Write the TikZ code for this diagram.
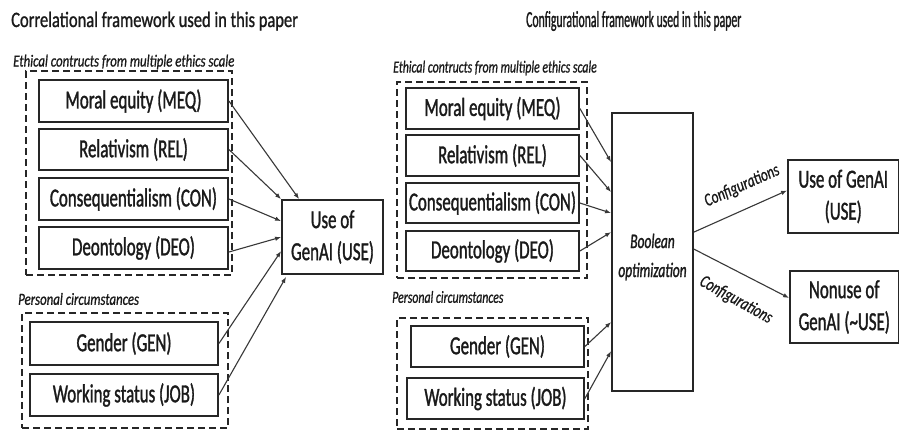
\documentclass[tikz,border=0pt]{standalone}
\usepackage{fontspec}
\setmainfont{Carlito}
\newfontfamily\fntbox{Carlito}[FakeStretch=0.65,FakeBold=1.2]
\newfontfamily\fnttl{Carlito}[FakeStretch=0.75,FakeBold=1.0]
\newfontfamily\fnttr{Carlito}[FakeStretch=0.51,FakeBold=1.0]
\newfontfamily\fntll{Carlito}[FakeStretch=0.755,FakeBold=0.8]
\newfontfamily\fntlr{Carlito}[FakeStretch=0.695,FakeBold=0.8]
\newfontfamily\fntconf{Carlito}[FakeStretch=0.75,FakeBold=0.8]
\usetikzlibrary{arrows.meta,calc}
\definecolor{txt}{HTML}{1A1A1A}
\definecolor{linec}{HTML}{262626}
\definecolor{arrc}{HTML}{383838}
\begin{document}
\begin{tikzpicture}[x=1pt,y=-1pt,
  box/.style={draw=linec, line width=1.8pt, inner sep=0pt, text=txt, align=center,
    font=\fntbox\fontsize{26}{32}\selectfont},
  grp/.style={draw=linec, line width=1.6pt, dash pattern=on 7pt off 4pt, inner sep=0pt},
  arr/.style={draw=arrc, line width=1.1pt, -{Latex[length=6pt,width=4.5pt]}},
  ttlL/.style={anchor=base west, inner sep=0pt, text=txt, font=\fnttl\fontsize{22}{26}\selectfont},
  ttlR/.style={anchor=base west, inner sep=0pt, text=txt, font=\fnttr\fontsize{23}{27}\selectfont},
  labL/.style={anchor=west, inner sep=0pt, text=txt, font=\fntll\itshape\fontsize{17}{20}\selectfont},
  labR/.style={anchor=west, inner sep=0pt, text=txt, font=\fntlr\itshape\fontsize{17}{20}\selectfont},
  conf/.style={inner sep=0pt, text=txt, font=\fntconf\itshape\fontsize{18}{21}\selectfont},
  boolt/.style={inner sep=0pt, text=txt, align=center, font=\fntbox\itshape\fontsize{20.7}{29}\selectfont}
]
\useasboundingbox (0,0) rectangle (900,431);
\fill[white] (0,0) rectangle (900,431);

% ---------- left panel ----------
\node[ttlL] (titleL) at (11,27) {Correlational framework used in this paper};
\node[labL] (ethL) at (13,62) {Ethical contructs from multiple ethics scale};
\node[grp, minimum width=206pt, minimum height=204pt] (g1) at (129,173) {};
\node[box, minimum width=189pt, minimum height=42pt] (meq) at (133.5,101) {Moral equity (MEQ)};
\node[box, minimum width=189pt, minimum height=41pt] (rel) at (133.5,149.5) {Relativism (REL)};
\node[box, minimum width=189pt, minimum height=42pt] (con) at (133.5,199) {Consequentialism (CON)};
\node[box, minimum width=189pt, minimum height=42pt] (deo) at (133.5,248) {Deontology (DEO)};
\node[box, minimum width=101pt, minimum height=74pt] (use) at (332.5,237) {Use of\\GenAI (USE)};
\node[labL] (perL) at (18,299) {Personal circumstances};
\node[grp, minimum width=206pt, minimum height=115pt] (g2) at (125,370.5) {};
\node[box, minimum width=188pt, minimum height=43pt] (gen) at (124,343.5) {Gender (GEN)};
\node[box, minimum width=188pt, minimum height=42pt] (job) at (124,395) {Working status (JOB)};

\draw[arr] (meq.east) -- ($(use.north west)+(18,0)$);
\draw[arr] (rel.east) -- (use.north west);
\draw[arr] (con.east) -- ($(use.north west)+(0,22)$);
\draw[arr] ($(deo.east)+(0,4)$) -- ($(use.north west)+(0,38)$);
\draw[arr] (gen.east) -- ($(use.north west)+(0,52)$);
\draw[arr] (job.east) -- ($(use.south west)+(5,2)$);

% ---------- right panel ----------
\node[ttlR] (titleR) at (526,27) {Configurational framework used in this paper};
\node[labR] (ethR) at (393,68) {Ethical contructs from multiple ethics scale};
\node[grp, minimum width=190pt, minimum height=196pt] (g3) at (492,180) {};
\node[box, minimum width=173pt, minimum height=41pt] (meq2) at (492.5,108.5) {Moral equity (MEQ)};
\node[box, minimum width=173pt, minimum height=41pt] (rel2) at (492.5,155.5) {Relativism (REL)};
\node[box, minimum width=173pt, minimum height=40pt] (con2) at (492.5,203) {Consequentialism (CON)};
\node[box, minimum width=173pt, minimum height=40pt] (deo2) at (492.5,251) {Deontology (DEO)};
\node[labR] (perR) at (392,297) {Personal circumstances};
\node[grp, minimum width=191pt, minimum height=111pt] (g4) at (492.5,373.5) {};
\node[box, minimum width=173pt, minimum height=41pt] (gen2) at (497.5,346.5) {Gender (GEN)};
\node[box, minimum width=177pt, minimum height=41pt] (job2) at (495.5,398.5) {Working status (JOB)};
\node[box, minimum width=81pt, minimum height=278pt] (bool) at (652.5,252) {};
\node[boolt] (boolx) at ($(bool.center)+(0,5)$) {Boolean\\optimization};
\node[box, minimum width=110.5pt, minimum height=73pt] (use2) at (843.25,196.5) {Use of GenAI\\(USE)};
\node[box, minimum width=108.5pt, minimum height=72pt] (nonuse) at (844.25,307) {Nonuse of\\GenAI (\textasciitilde USE)};

\draw[arr] (meq2.east) -- ($(bool.north west)+(0,50)$);
\draw[arr] (rel2.east) -- ($(bool.north west)+(0,80)$);
\draw[arr] (con2.east) -- ($(bool.north west)+(0,101)$);
\draw[arr] (deo2.east) -- ($(bool.north west)+(0,120)$);
\draw[arr] (gen2.east) -- ($(bool.north west)+(0,210)$);
\draw[arr] (job2.east) -- ($(bool.north west)+(0,239)$);
\draw[arr] ($(bool.north east)+(0,120)$) -- ($(use2.west)+(0,-6)$);
\draw[arr] ($(bool.north east)+(0,137)$) -- ($(nonuse.west)+(0,-9)$);
\node[conf, rotate=24] (conf1) at (742,186) {Configurations};
\node[conf, rotate=-29] (conf2) at (736,300) {Configurations};
\end{tikzpicture}
\end{document}
